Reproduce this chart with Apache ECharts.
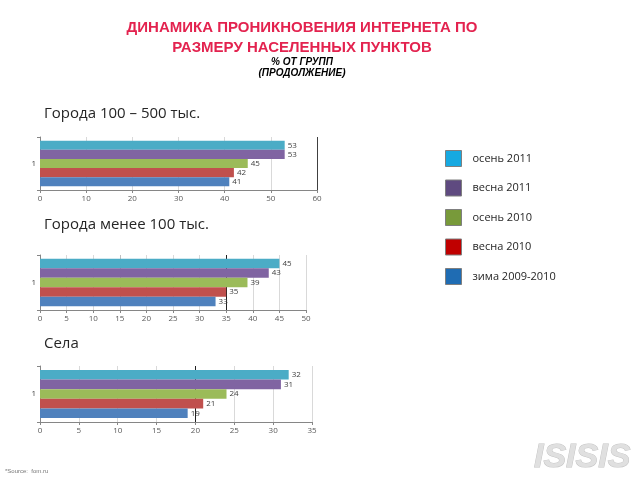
<!DOCTYPE html>
<html>
<head>
<meta charset="utf-8">
<script src="https://cdn.jsdelivr.net/npm/echarts@6/dist/echarts.min.js"></script>
<style>html,body{margin:0;padding:0;background:#fff}#c{width:640px;height:480px}</style>
</head>
<body>
<div id="c"></div>
<script>
const categories = ['1'];
const seriesNames = ['осень 2011', 'весна 2011', 'осень 2010', 'весна 2010', 'зима 2009-2010'];
const cities100to500 = [53, 53, 45, 42, 41];
const citiesUnder100 = [45, 43, 39, 35, 33];
const villages = [32, 31, 24, 21, 19];
const panelTitles = ['Города 100 – 500 тыс.', 'Города менее 100 тыс.', 'Села'];
const axisMax = [60, 50, 35];
const axisStep = [10, 5, 5];

const barColors = ['#4bacc6', '#8064a2', '#9bbb59', '#c0504d', '#4f81bd'];
const legendColors = ['#17a9e1', '#5f4a80', '#789a3a', '#c00000', '#1f6cb3'];
const panels = [cities100to500, citiesUnder100, villages];
const grids = [
  {left: 40, width: 277, top: 137, height: 53},
  {left: 40, width: 266, top: 255, height: 55},
  {left: 40, width: 272, top: 366, height: 56}
];
const gridColors = [
  ['#d9d9d9','#d9d9d9','#d9d9d9','#d9d9d9','#d9d9d9','#d9d9d9','#404040'],
  ['#d9d9d9','#d9d9d9','#d9d9d9','#bfbfbf','#d9d9d9','#d9d9d9','#d9d9d9','#202020','#d9d9d9','#d9d9d9','#d9d9d9'],
  ['#d9d9d9','#d9d9d9','#d9d9d9','#d9d9d9','#202020','#d9d9d9','#d9d9d9','#d9d9d9']
];

const xAxes = [], yAxes = [], series = [];
panels.forEach((vals, p) => {
  xAxes.push({
    gridIndex: p, type: 'value', min: 0, max: axisMax[p], interval: axisStep[p],
    axisLine: {show: true, lineStyle: {color: '#868686'}},
    axisTick: {show: true, length: 3, lineStyle: {color: '#868686'}},
    axisLabel: {fontSize: 8, color: '#595959', fontFamily: 'Open Sans', margin: 5},
    splitLine: {show: true, lineStyle: {color: gridColors[p], width: 1}}
  });
  yAxes.push({
    gridIndex: p, type: 'category', data: categories,
    axisLine: {show: true, lineStyle: {color: '#868686'}},
    axisTick: {show: true, length: 3, lineStyle: {color: '#868686'}},
    axisLabel: {fontSize: 8, color: '#404040', fontFamily: 'Open Sans', margin: 4}
  });
  seriesNames.forEach((name, i) => {
    series.push({
      name: name, type: 'bar', xAxisIndex: p, yAxisIndex: p,
      data: [vals[i]],
      barGap: '0%', barCategoryGap: '14%',
      itemStyle: {color: barColors[i]},
      label: {show: true, position: 'right', distance: 3, fontSize: 8, color: '#404040', fontFamily: 'Open Sans'}
    });
  });
});

const g = [];
g.push({type: 'text', x: 302, y: 20, style: {text: 'ДИНАМИКА ПРОНИКНОВЕНИЯ ИНТЕРНЕТА ПО', fontSize: 15, fontWeight: 'bold', fontFamily: 'Liberation Sans', fill: '#e3234f', align: 'center'}});
g.push({type: 'text', x: 302, y: 40, style: {text: 'РАЗМЕРУ НАСЕЛЕННЫХ ПУНКТОВ', fontSize: 15, fontWeight: 'bold', fontFamily: 'Liberation Sans', fill: '#e3234f', align: 'center'}});
g.push({type: 'text', x: 302, y: 57, style: {text: '% ОТ ГРУПП', fontSize: 10, fontWeight: 'bold', fontStyle: 'italic', fontFamily: 'Liberation Sans', fill: '#000', align: 'center'}});
g.push({type: 'text', x: 302, y: 68, style: {text: '(ПРОДОЛЖЕНИЕ)', fontSize: 10, fontWeight: 'bold', fontStyle: 'italic', fontFamily: 'Liberation Sans', fill: '#000', align: 'center'}});
const headY = [106, 217, 336];
panelTitles.forEach((t, p) => {
  g.push({type: 'text', x: 44, y: headY[p], style: {text: t, fontSize: 15, fontFamily: 'Open Sans', fill: '#262626'}});
});
g.push({type: 'text', x: 5, y: 468, style: {text: '*Source:  fom.ru', fontSize: 6, fontFamily: 'Liberation Sans', fill: '#777'}});
g.push({type: 'text', x: 534, y: 441, style: {text: 'ISISIS', fontSize: 34, fontWeight: 'bold', fontStyle: 'italic', fontFamily: 'Liberation Sans', fill: '#e0e0e0', stroke: '#c4c4c4', lineWidth: 1}});

const option = {
  animation: false,
  backgroundColor: '#fff',
  grid: grids,
  xAxis: xAxes,
  yAxis: yAxes,
  legend: {
    orient: 'vertical', left: 440, top: 145,
    itemWidth: 16, itemHeight: 16, itemGap: 12.5,
    icon: 'rect',
    selectedMode: false,
    textStyle: {fontSize: 11, fontFamily: 'Open Sans', color: '#262626', padding: [0, 0, 0, 6]},
    data: seriesNames.map((n, i) => ({name: n, itemStyle: {color: legendColors[i], borderColor: '#7f7f7f', borderWidth: 1}}))
  },
  series: series,
  graphic: g
};
const chart = echarts.init(document.getElementById('c'), null, {renderer: 'canvas'});
chart.setOption(option);
</script>
</body>
</html>
